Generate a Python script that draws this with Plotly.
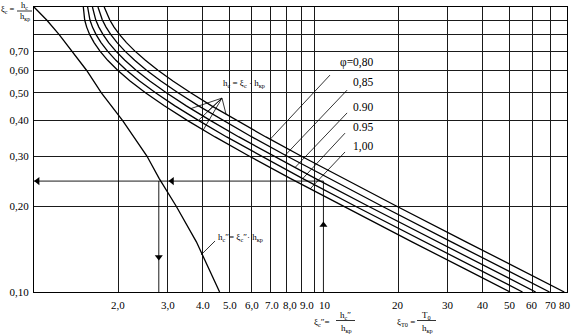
import math
import plotly.graph_objects as go

# ---- data ----
xi_c = [1.0, 0.95, 0.9, 0.85, 0.8, 0.75, 0.7, 0.65, 0.6, 0.55, 0.5, 0.45,
        0.4, 0.35, 0.3, 0.25, 0.2, 0.15, 0.12, 0.1]
xiT0_phi080 = [1.781, 1.816, 1.865, 1.931, 2.021, 2.139, 2.294, 2.499, 2.770, 3.133,
               3.625, 4.308, 5.283, 6.728, 8.981, 12.75, 19.73, 34.87, 54.37, 78.23]
xiT0_phi085 = [1.692, 1.717, 1.754, 1.808, 1.881, 1.980, 2.112, 2.288, 2.522, 2.838,
               3.268, 3.868, 4.725, 5.999, 7.989, 11.32, 17.50, 30.91, 48.18, 69.30]
xiT0_phi090 = [1.617, 1.634, 1.662, 1.704, 1.765, 1.847, 1.960, 2.111, 2.315, 2.591,
               2.969, 3.498, 4.258, 5.389, 7.159, 10.13, 15.63, 27.59, 42.99, 61.83]
xiT0_phi095 = [1.554, 1.564, 1.584, 1.617, 1.666, 1.735, 1.831, 1.961, 2.139, 2.381,
               2.716, 3.186, 3.863, 4.873, 6.456, 9.114, 14.05, 24.77, 38.59, 55.50]
xiT0_phi100 = [1.500, 1.504, 1.517, 1.542, 1.581, 1.639, 1.720, 1.833, 1.989, 2.203,
               2.500, 2.919, 3.525, 4.432, 5.856, 8.25, 12.70, 22.37, 34.84, 50.10]
phi_series = [xiT0_phi080, xiT0_phi085, xiT0_phi090, xiT0_phi095, xiT0_phi100]
phi_labels = ["φ=0,80", "0,85", "0.90", "0.95", "1,00"]

xi_c_conj = [1.0, 0.9, 0.8, 0.7, 0.6, 0.5, 0.4, 0.3, 0.25, 0.2, 0.15, 0.1]
xi_conj = [1.0, 1.11, 1.23, 1.37, 1.54, 1.74, 2.07, 2.53, 2.80, 3.22, 3.80, 4.60]

# worked example
ex_xi_c = 0.245
ex_xiT0 = 10.8
ex_xi_conj = 2.79

# leader lines (label -> curve)
phi_leader_start = [(11.40, 0.577), (13.12, 0.511), (13.12, 0.425), (12.90, 0.361), (12.90, 0.310)]
phi_leader_end = [(6.98, 0.344), (7.89, 0.302), (8.54, 0.273), (9.11, 0.25), (9.68, 0.23)]
hc_leader_start = (4.69, 0.479)
hc_leader_end = [(3.63, 0.44), (4.17, 0.43), (3.863, 0.40), (4.02, 0.37), (4.85, 0.42)]
hcc_leader = [(4.43, 0.151), (3.95, 0.135)]

x_tick_vals = [2, 3, 4, 5, 6, 7, 8, 9, 10, 20, 30, 40, 50, 60, 70, 80]
x_tick_text = ["2,0", "3,0", "4.0", "5.0", "6,0", "7.0", "8,0", "9.0", "10",
               "20", "30", "40", "50", "60", "70", "80"]
# crowded labels are typeset slightly to the right of their lines
x_tick_shift = [0, 0, 0, 0, 0, 1, 3, 6, 11, 0, 0, 0, 0, 0, 0, -2]
y_tick_vals = [0.1, 0.2, 0.3, 0.4, 0.5, 0.6, 0.7, 0.8, 0.9]
y_tick_text = ["0,10", "0,20", "0,30", "0,40", "0,50", "0,60", "0,70", "", ""]

FONT = "Liberation Serif, Times New Roman, DejaVu Serif, serif"
L, R, T, B = 34, 5, 7, 43
W, H = 572, 335
PW, PH = W - L - R, H - T - B


def paper(xp, yp):
    return (xp - L) / PW, (H - B - yp) / PH


fig = go.Figure()
line_style = dict(color="black", width=1.3)

for xs in phi_series:
    fig.add_trace(go.Scatter(x=xs, y=xi_c, mode="lines", line=line_style,
                             showlegend=False, hoverinfo="skip"))
fig.add_trace(go.Scatter(x=xi_conj, y=xi_c_conj, mode="lines", line=line_style,
                         showlegend=False, hoverinfo="skip"))

thin = dict(color="black", width=0.9)
# example path
fig.add_trace(go.Scatter(x=[ex_xiT0, 1.0], y=[ex_xi_c, ex_xi_c], mode="lines", line=thin,
                         showlegend=False, hoverinfo="skip"))
fig.add_trace(go.Scatter(x=[ex_xi_conj, ex_xi_conj], y=[ex_xi_c, 0.1], mode="lines", line=thin,
                         showlegend=False, hoverinfo="skip"))
fig.add_trace(go.Scatter(x=[ex_xiT0, ex_xiT0], y=[0.1, ex_xi_c], mode="lines", line=thin,
                         showlegend=False, hoverinfo="skip"))
fig.add_trace(go.Scatter(x=[1.03, 3.11], y=[ex_xi_c, ex_xi_c], mode="markers",
                         marker=dict(symbol="triangle-left", size=7, color="black"),
                         showlegend=False, hoverinfo="skip"))
fig.add_trace(go.Scatter(x=[ex_xi_conj], y=[0.1327], mode="markers",
                         marker=dict(symbol="triangle-down", size=7, color="black"),
                         showlegend=False, hoverinfo="skip"))
fig.add_trace(go.Scatter(x=[ex_xiT0], y=[0.1718], mode="markers",
                         marker=dict(symbol="triangle-up", size=7, color="black"),
                         showlegend=False, hoverinfo="skip"))

# leaders
for s, e in zip(phi_leader_start, phi_leader_end):
    fig.add_trace(go.Scatter(x=[s[0], e[0]], y=[s[1], e[1]], mode="lines", line=dict(color="black", width=0.8),
                             showlegend=False, hoverinfo="skip"))
for e in hc_leader_end:
    fig.add_trace(go.Scatter(x=[hc_leader_start[0], e[0]], y=[hc_leader_start[1], e[1]], mode="lines",
                             line=dict(color="black", width=0.8), showlegend=False, hoverinfo="skip"))
fig.add_trace(go.Scatter(x=[p[0] for p in hcc_leader], y=[p[1] for p in hcc_leader], mode="lines",
                         line=dict(color="black", width=0.8), showlegend=False, hoverinfo="skip"))

ann = []


def text(xp, yp, s, size=11, anchor="center"):
    px_, py_ = paper(xp, yp)
    ann.append(dict(x=px_, y=py_, xref="paper", yref="paper", text=s, showarrow=False,
                    xanchor=anchor, yanchor="middle", font=dict(family=FONT, size=size, color="black")))


# x tick labels, placed at their tick values
for v, t, sh in zip(x_tick_vals, x_tick_text, x_tick_shift):
    ann.append(dict(x=math.log10(v), y=paper(0, 305)[1], xref="x", yref="paper", text=t,
                    showarrow=False, xanchor="center", yanchor="middle", xshift=sh,
                    font=dict(family=FONT, size=11, color="black")))

# phi labels
for lab, yp in zip(phi_labels, [62, 82, 107, 127, 146]):
    text(375, yp, lab, size=11.5, anchor="right")

text(244, 84, "h<sub>c</sub> = ξ<sub>c</sub> · h<sub>кр</sub>", size=9)
text(240, 237, "h<sub>c</sub>″= ξ<sub>c</sub>″· h<sub>кр</sub>", size=9)

shapes = []


def bar(x0, x1, yp):
    a0, b0 = paper(x0, yp)
    a1, _ = paper(x1, yp)
    shapes.append(dict(type="line", xref="paper", yref="paper", x0=a0, x1=a1, y0=b0, y1=b0,
                       line=dict(color="black", width=0.8)))


# y title (top-left)
text(8, 9, "ξ<sub>c</sub> =", size=8.5)
text(24, 5.5, "h<sub>c</sub>", size=8.5)
bar(17, 32, 11)
text(25, 16.5, "h<sub>кр</sub>", size=8.5)

# x title 1
text(322, 323, "ξ<sub>c</sub>″=", size=9)
text(345, 315, "h<sub>c</sub>″", size=9)
bar(336, 355, 320.5)
text(346, 328, "h<sub>кр</sub>", size=9)

# x title 2
text(406, 323, "ξ<sub>T0</sub> =", size=9)
text(426, 315, "T<sub>0</sub>", size=9)
bar(417, 436, 320.5)
text(427, 328, "h<sub>кр</sub>", size=9)

axis_common = dict(type="log", showgrid=True, gridcolor="#1a1a1a", gridwidth=1,
                   showline=True, linecolor="black", linewidth=1.2, mirror=True,
                   zeroline=False, ticks="",
                   tickfont=dict(family=FONT, size=11, color="black"))

fig.update_layout(
    width=W, height=H,
    margin=dict(l=L, r=R, t=T, b=B),
    paper_bgcolor="white", plot_bgcolor="white",
    showlegend=False,
    xaxis=dict(range=[0, math.log10(80)], tickvals=x_tick_vals, ticktext=x_tick_text,
               showticklabels=False, **axis_common),
    yaxis=dict(range=[-1, 0], tickvals=y_tick_vals, ticktext=y_tick_text,
               ticklabelstandoff=2, **axis_common),
    annotations=ann,
    shapes=shapes,
)

fig.write_html("out.html")
